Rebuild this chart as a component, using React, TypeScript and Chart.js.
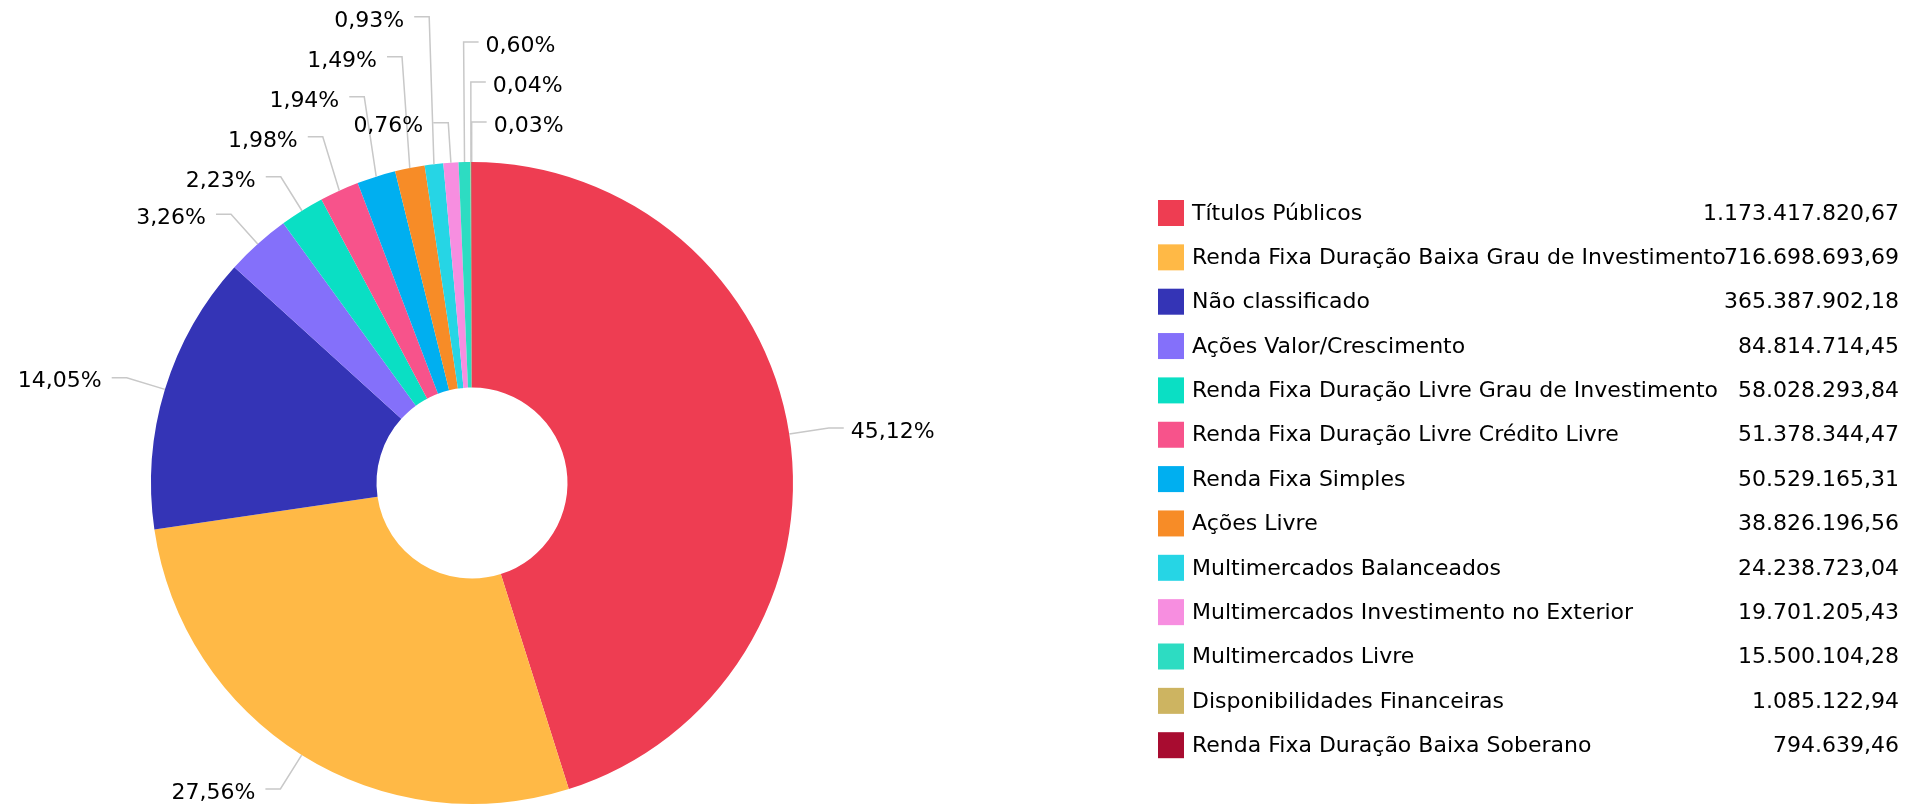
import React, { useEffect, useRef } from 'react';
import { Chart, registerables } from 'chart.js';

Chart.register(...registerables);

const categories: string[] = [
  'Títulos Públicos',
  'Renda Fixa Duração Baixa Grau de Investimento',
  'Não classificado',
  'Ações Valor/Crescimento',
  'Renda Fixa Duração Livre Grau de Investimento',
  'Renda Fixa Duração Livre Crédito Livre',
  'Renda Fixa Simples',
  'Ações Livre',
  'Multimercados Balanceados',
  'Multimercados Investimento no Exterior',
  'Multimercados Livre',
  'Disponibilidades Financeiras',
  'Renda Fixa Duração Baixa Soberano',
];

const values: number[] = [
  1173417820.67,
  716698693.69,
  365387902.18,
  84814714.45,
  58028293.84,
  51378344.47,
  50529165.31,
  38826196.56,
  24238723.04,
  19701205.43,
  15500104.28,
  1085122.94,
  794639.46,
];

const colors: string[] = [
  '#EE3D52',
  '#FFB946',
  '#3434B6',
  '#8470FA',
  '#0ADFC4',
  '#F7538B',
  '#00AFF0',
  '#F78C27',
  '#26D5E5',
  '#F78EE0',
  '#2DDCC2',
  '#CDB461',
  '#A80C30',
];

const FONT = '22px "DejaVu Sans", Verdana, sans-serif';

function fmtBR(v: number): string {
  const [i, d] = v.toFixed(2).split('.');
  return i.replace(/\B(?=(\d{3})+(?!\d))/g, '.') + ',' + d;
}

const sliceLabelPlugin = {
  id: 'sliceLabels',
  afterDatasetsDraw(chart: any) {
    const ctx: CanvasRenderingContext2D = chart.ctx;
    const meta = chart.getDatasetMeta(0);
    const data = chart.data.datasets[0].data as number[];
    const total = data.reduce((a, b) => a + b, 0);
    ctx.save();
    ctx.font = FONT;
    const items = meta.data.map((arc: any, i: number) => {
      const p = arc.getProps(['x', 'y', 'startAngle', 'endAngle', 'outerRadius'], true);
      const mid = (p.startAngle + p.endAngle) / 2;
      const c = Math.cos(mid);
      const s = Math.sin(mid);
      const ax = p.x + c * p.outerRadius;
      const ay = p.y + s * p.outerRadius;
      const ex = p.x + c * (p.outerRadius + 40);
      const ey = p.y + s * (p.outerRadius + 40);
      const right = c > -0.05;
      const text = ((data[i] / total) * 100).toFixed(2).replace('.', ',') + '%';
      const w = ctx.measureText(text).width;
      const left = right ? ex + 15 + 7 : ex - 15 - 10 - w;
      return { ax, ay, ex, ey, right, text, w, left, rightEdge: left + w };
    });
    const order = [
      ...items.filter((it: any) => !it.right),
      ...items.filter((it: any) => it.right).reverse(),
    ];
    const placed: any[] = [];
    for (const it of order) {
      let moved = true;
      let guard = 0;
      while (moved && guard++ < 60) {
        moved = false;
        for (const o of placed) {
          if (o.right !== it.right) continue;
          if (
            Math.abs(o.ey - it.ey) < 35 &&
            it.left - 2 < o.rightEdge + 2 &&
            o.left - 2 < it.rightEdge + 2
          ) {
            it.ey = o.ey - 40;
            moved = true;
            break;
          }
        }
      }
      placed.push(it);
    }
    ctx.strokeStyle = '#c8c8c8';
    ctx.lineWidth = 1.5;
    for (const it of placed) {
      ctx.beginPath();
      ctx.moveTo(it.ax, it.ay);
      ctx.lineTo(it.ex, it.ey);
      ctx.lineTo(it.right ? it.ex + 15 : it.ex - 15, it.ey);
      ctx.stroke();
    }
    ctx.fillStyle = '#000';
    ctx.textBaseline = 'middle';
    ctx.textAlign = 'left';
    for (const it of placed) {
      ctx.fillText(it.text, it.left, it.ey + 4);
    }
    ctx.restore();
  },
};

const legendPlugin = {
  id: 'valueLegend',
  afterDraw(chart: any) {
    const ctx: CanvasRenderingContext2D = chart.ctx;
    const x0 = 1158;
    const y0 = 213;
    const row = 44.35;
    const sw = 26;
    ctx.save();
    ctx.font = FONT;
    ctx.textBaseline = 'middle';
    categories.forEach((cat, i) => {
      const cy = y0 + i * row;
      ctx.fillStyle = colors[i];
      ctx.fillRect(x0, cy - sw / 2, sw, sw);
      ctx.fillStyle = '#000';
      ctx.textAlign = 'left';
      ctx.fillText(cat, 1192, cy + 1);
      ctx.textAlign = 'right';
      ctx.fillText(fmtBR(values[i]), 1899, cy + 1);
    });
    ctx.restore();
  },
};

export default function App() {
  const ref = useRef<HTMLCanvasElement | null>(null);
  useEffect(() => {
    document.body.style.margin = '0';
    document.body.style.overflow = 'hidden';
    const canvas = ref.current;
    if (!canvas) return;
    const chart = new Chart(canvas, {
      type: 'doughnut',
      data: {
        labels: categories,
        datasets: [
          {
            data: values,
            backgroundColor: colors,
            borderWidth: 0,
            hoverBorderWidth: 0,
            offset: 0,
            hoverOffset: 0,
          } as any,
        ],
      },
      options: {
        responsive: false,
        animation: false,
        devicePixelRatio: 1,
        events: [],
        cutout: '29.75%',
        layout: { padding: { left: 151, top: 162, right: 1113, bottom: 3 } },
        plugins: {
          legend: { display: false },
          tooltip: { enabled: false },
        },
      } as any,
      plugins: [sliceLabelPlugin, legendPlugin],
    });
    return () => chart.destroy();
  }, []);
  return (
    <div style={{ width: 1906, height: 807, background: '#fff' }}>
      <canvas ref={ref} width={1906} height={807} style={{ display: 'block', width: 1906, height: 807 }} />
    </div>
  );
}
